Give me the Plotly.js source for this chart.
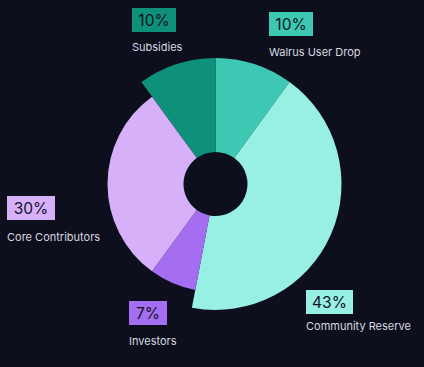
<!DOCTYPE html>
<html>
<head>
<meta charset="utf-8">
<script src="https://cdn.plot.ly/plotly-3.0.1.min.js"></script>
<style>
html,body{margin:0;padding:0;background:#0d0f1c;}
#chart{width:424px;height:367px;}
</style>
</head>
<body>
<div id="chart"></div>
<script>
// ---- data ----
var categories = ['Walrus User Drop', 'Community Reserve', 'Investors', 'Core Contributors', 'Subsidies'];
var shares = [10, 43, 7, 30, 10];
var shareLabels = ['10%', '43%', '7%', '30%', '10%'];

// ---- styles ----
var sliceColors = ['#3cc8b3', '#98efe4', '#a56ef0', '#d7b0fa', '#0f907b'];
var outerLayer = [true, true, false, false, true];
var W = 424, H = 367;
var cx = 215.5, cy = 184;
var rOuter = 126, rInner = 108, rHole = 32;

// label box centres (px) and name label left/middle
var boxPos = [[291, 24], [329, 302], [148, 313], [31, 208], [154, 20]];
var boxW = [44, 47, 38, 48, 44];
var namePos = [[267, 52], [304, 326], [127, 341], [5, 237], [130, 47]];

function dom(r) {
  return {
    x: [(cx - r) / W, (cx + r) / W],
    y: [(H - cy - r) / H, (H - cy + r) / H]
  };
}
function layerColors(outer) {
  return sliceColors.map(function (c, i) {
    return outerLayer[i] === outer ? c : 'rgba(0,0,0,0)';
  });
}

var traces = [
  {
    type: 'pie', labels: categories, values: shares, sort: false,
    direction: 'clockwise', rotation: 0, hole: rHole / rOuter,
    domain: dom(rOuter), textinfo: 'none', hoverinfo: 'label+percent',
    marker: { colors: layerColors(true), line: { width: 0 } }, showlegend: false
  },
  {
    type: 'pie', labels: categories, values: shares, sort: false,
    direction: 'clockwise', rotation: 0, hole: rHole / rInner,
    domain: dom(rInner), textinfo: 'none', hoverinfo: 'label+percent',
    marker: { colors: layerColors(false), line: { width: 0 } }, showlegend: false
  }
];

var annotations = [];
categories.forEach(function (name, i) {
  annotations.push({
    xref: 'paper', yref: 'paper',
    x: boxPos[i][0] / W, y: 1 - boxPos[i][1] / H,
    xanchor: 'center', yanchor: 'middle',
    text: shareLabels[i], showarrow: false,
    bgcolor: sliceColors[i], borderpad: 1, borderwidth: 0,
    width: boxW[i] - 2, height: 22,
    font: { family: 'Inter, Roboto, sans-serif', size: 15.5, color: '#10121f' }
  });
  annotations.push({
    xref: 'paper', yref: 'paper',
    x: namePos[i][0] / W, y: 1 - namePos[i][1] / H,
    xanchor: 'left', yanchor: 'middle',
    text: name, showarrow: false,
    font: { family: 'Inter, Roboto, sans-serif', size: 11, color: '#d8d9e0' }
  });
});

var layout = {
  width: W, height: H,
  margin: { l: 0, r: 0, t: 0, b: 0 },
  paper_bgcolor: '#0d0f1c', plot_bgcolor: '#0d0f1c',
  annotations: annotations,
  showlegend: false
};

Plotly.newPlot('chart', traces, layout, { displayModeBar: false, staticPlot: true });
</script>
</body>
</html>
